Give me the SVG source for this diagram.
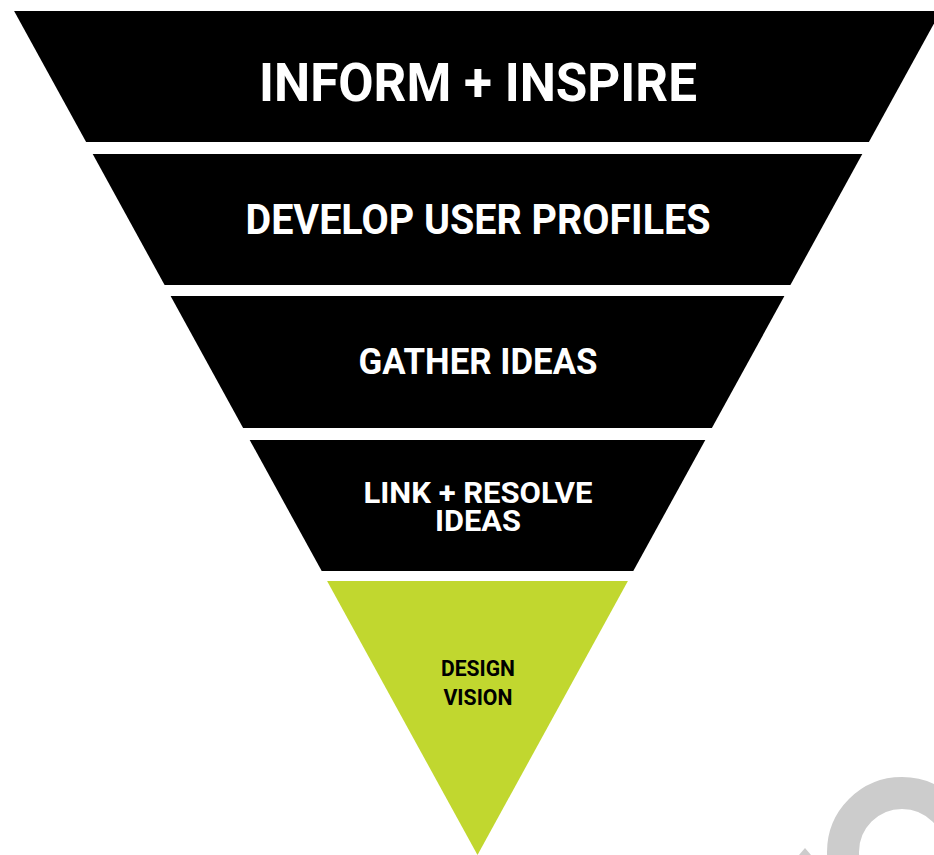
<svg xmlns="http://www.w3.org/2000/svg" width="934" height="855" viewBox="0 0 934 855">
<style>
.seg{fill:#000}
.green{fill:#c1d72f}
.t{font-family:Roboto,"Liberation Sans",sans-serif;font-weight:bold;text-anchor:middle;fill:#fff}
.dk{fill:#000}
</style>
<rect width="934" height="855" fill="#fff"/>
<g id="deco" fill="#cccccc">
<circle cx="902" cy="852" r="59" fill="none" stroke="#cccccc" stroke-width="32"/>
<polygon points="799,855 805,848 811,855"/>
</g>
<g id="seg1">
<polygon class="seg" points="14.1,11 940.9,11 868.9,142 86.1,142"/>
<text class="t" x="478" y="101" font-size="53" textLength="438" lengthAdjust="spacingAndGlyphs">INFORM + INSPIRE</text>
</g>
<g id="seg2">
<polygon class="seg" points="92.7,154 862.3,154 790.4,285 164.6,285"/>
<text class="t" x="478" y="234" font-size="43" textLength="465" lengthAdjust="spacingAndGlyphs">DEVELOP USER PROFILES</text>
</g>
<g id="seg3">
<polygon class="seg" points="170.6,296 784.4,296 711.9,428 243.1,428"/>
<text class="t" x="478" y="374" font-size="37" textLength="239" lengthAdjust="spacingAndGlyphs">GATHER IDEAS</text>
</g>
<g id="seg4">
<polygon class="seg" points="249.7,440 705.3,440 633.3,571 321.7,571"/>
<text class="t" x="478" y="503" font-size="29" textLength="229" lengthAdjust="spacingAndGlyphs">LINK + RESOLVE</text>
<text class="t" x="478" y="531" font-size="29" textLength="86" lengthAdjust="spacingAndGlyphs">IDEAS</text>
</g>
<g id="seg5">
<polygon class="green" points="327.1,581 627.9,581 477.5,855"/>
<text class="t dk" x="478" y="676" font-size="22" textLength="74" lengthAdjust="spacingAndGlyphs">DESIGN</text>
<text class="t dk" x="478" y="705" font-size="22" textLength="69" lengthAdjust="spacingAndGlyphs">VISION</text>
</g>
<g id="connectors"></g>
</svg>
